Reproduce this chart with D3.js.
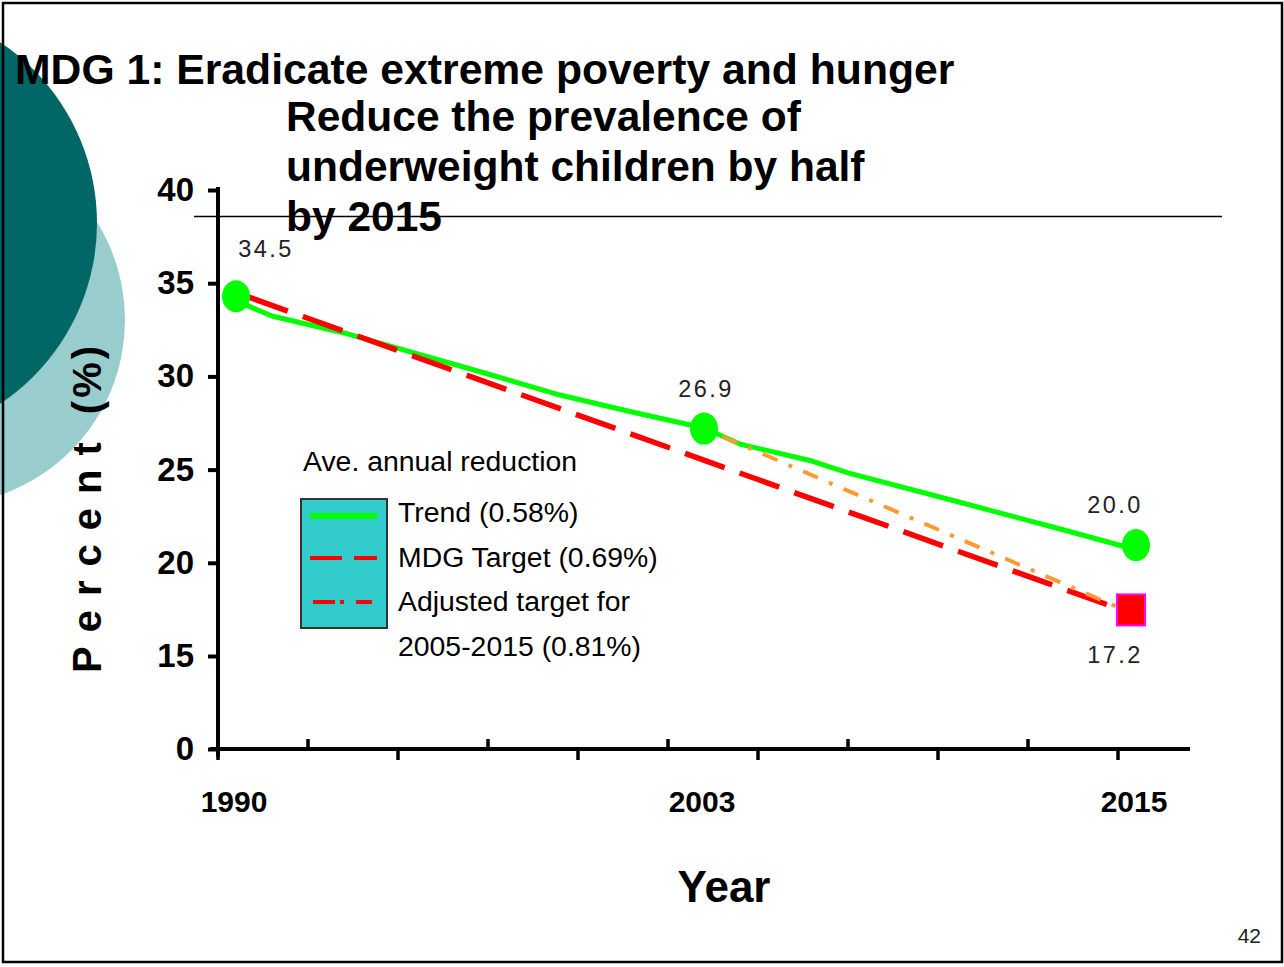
<!DOCTYPE html>
<html>
<head>
<meta charset="utf-8">
<script src="https://cdn.jsdelivr.net/npm/d3@7"></script>
<style>
  body { margin: 0; background: #fff; }
  text { font-family: Arial, "Liberation Sans", sans-serif; }
</style>
</head>
<body>
<div id="chart"></div>
<script>
// values
const trendYears = [1990, 1991, 1993, 1997, 1999, 2001, 2003, 2004, 2006, 2007, 2010, 2013, 2015];
const trendValues = [34.05, 33.24, 32.33, 30.13, 29.0, 28.09, 27.23, 26.37, 25.46, 24.82, 23.3, 21.76, 20.7];
const markerYears = [1990, 2003, 2015];
const markerValues = [34.3, 27.2, 20.95];
const targetYears = [1990, 2015];
const targetValues = [34.5, 17.2];
const adjustedYears = [2003, 2015];
const adjustedValues = [27.2, 17.2];
const squareYear = 2015;
const squareValue = 17.5;
const pointLabels = ["34.5", "26.9", "20.0", "17.2"];
const labelYears = [1990, 2003, 2015, 2015];
const labelValues = [34.3, 27.2, 20.95, 17.5];
const yTicks = [0, 15, 20, 25, 30, 35, 40];
const xLabels = [1990, 2003, 2015];
const legendItems = ["Trend (0.58%)", "MDG Target (0.69%)", "Adjusted target for", "2005-2015 (0.81%)"];

const width = 1284, height = 967;

const svg = d3.select("#chart")
  .append("svg")
  .attr("width", width)
  .attr("height", height);

// background decoration circles
svg.append("circle").attr("cx", -60).attr("cy", 320).attr("r", 185).attr("fill", "#99cccc");
svg.append("circle").attr("cx", -120).attr("cy", 223).attr("r", 217).attr("fill", "#006666");

// slide frame
svg.append("rect")
  .attr("x", 3).attr("y", 3)
  .attr("width", 1279).attr("height", 959)
  .attr("fill", "none").attr("stroke", "#000").attr("stroke-width", 2.5);

// scales (y axis is broken between 0 and 15)
const x = d3.scaleLinear().domain([1989.5, 2016.5]).range([218, 1190]);
const y = d3.scaleLinear().domain([0, 15, 40]).range([749, 656, 190]);

// titles
svg.append("text")
  .attr("x", 15).attr("y", 84)
  .attr("font-size", 42.7).attr("font-weight", "bold")
  .text("MDG 1: Eradicate extreme poverty and hunger");

const sub = ["Reduce the prevalence of", "underweight children by half", "by 2015"];
svg.append("g").selectAll("text")
  .data(sub)
  .join("text")
  .attr("x", 286)
  .attr("y", (d, i) => 131 + i * 50)
  .attr("font-size", 42.5).attr("font-weight", "bold")
  .text(d => d);

// thin rule under the header
svg.append("line")
  .attr("x1", 194).attr("x2", 1222)
  .attr("y1", 216.5).attr("y2", 216.5)
  .attr("stroke", "#000").attr("stroke-width", 1.5);

// Y axis
const yAxis = svg.append("g")
  .attr("transform", "translate(218,0)")
  .call(d3.axisLeft(y).tickValues(yTicks).tickSize(10).tickSizeOuter(0).tickPadding(14));
yAxis.select(".domain").attr("stroke-width", 4).attr("d", `M0,${y(40) - 3}V${y(0) + 8}`);
yAxis.selectAll(".tick line").attr("stroke-width", 4);
yAxis.selectAll(".tick text")
  .attr("font-family", "Arial, 'Liberation Sans', sans-serif")
  .attr("font-size", 33).attr("font-weight", "bold").attr("fill", "#000");

// X axis
const xAxis = svg.append("g");
xAxis.append("line")
  .attr("x1", 210).attr("x2", 1190)
  .attr("y1", y(0)).attr("y2", y(0))
  .attr("stroke", "#000").attr("stroke-width", 4);
const xTicks = d3.range(1989.5, 2016, 2.5);
xAxis.selectAll(".xt")
  .data(xTicks)
  .join("line")
  .attr("class", "xt")
  .attr("x1", d => x(d)).attr("x2", d => x(d))
  .attr("y1", y(0))
  .attr("y2", (d, i) => i % 2 === 0 ? y(0) + 11 : y(0) - 10)
  .attr("stroke", "#000").attr("stroke-width", 3.5);
xAxis.selectAll(".xl")
  .data(xLabels)
  .join("text")
  .attr("class", "xl")
  .attr("x", d => x(d) - 2)
  .attr("y", 812)
  .attr("text-anchor", "middle")
  .attr("font-size", 30).attr("font-weight", "bold")
  .text(d => d);

// axis titles
svg.append("text")
  .attr("x", 724).attr("y", 902)
  .attr("text-anchor", "middle")
  .attr("font-size", 44).attr("font-weight", "bold")
  .text("Year");

const yTitle = svg.append("text")
  .attr("transform", "translate(101,508) rotate(-90)")
  .attr("text-anchor", "middle")
  .attr("font-size", 40).attr("font-weight", "bold");
yTitle.append("tspan").attr("letter-spacing", 14).text("Percent");
yTitle.append("tspan").attr("letter-spacing", 3).text(" (%)");

// lines
const line = d3.line().x(d => x(d[0])).y(d => y(d[1]));

svg.append("path")
  .datum(d3.zip(trendYears, trendValues))
  .attr("d", line)
  .attr("fill", "none").attr("stroke", "#00ff00").attr("stroke-width", 5)
  .attr("stroke-linejoin", "round");

svg.append("path")
  .datum(d3.zip(targetYears, targetValues))
  .attr("d", line)
  .attr("fill", "none").attr("stroke", "#ff0000").attr("stroke-width", 5.5)
  .attr("stroke-dasharray", "42,16").attr("stroke-dashoffset", 45);

svg.append("path")
  .datum(d3.zip(adjustedYears, adjustedValues))
  .attr("d", line)
  .attr("fill", "none").attr("stroke", "#ff9933").attr("stroke-width", 4)
  .attr("stroke-dasharray", "16,12,4,12").attr("stroke-dashoffset", -20);

// markers
svg.append("g").selectAll("ellipse")
  .data(d3.zip(markerYears, markerValues))
  .join("ellipse")
  .attr("cx", d => x(d[0]))
  .attr("cy", d => y(d[1]))
  .attr("rx", 14).attr("ry", 16)
  .attr("fill", "#00ff00");

svg.append("rect")
  .attr("x", x(squareYear) - 19).attr("y", y(squareValue) - 15)
  .attr("width", 28).attr("height", 31)
  .attr("fill", "#ff0000").attr("stroke", "#ff00ff").attr("stroke-width", 2);

// point labels
const labelOffsets = [[30, -39], [2, -32], [-21, -32], [-21, 54]];
svg.append("g").selectAll("text")
  .data(pointLabels)
  .join("text")
  .attr("x", (d, i) => x(labelYears[i]) + labelOffsets[i][0])
  .attr("y", (d, i) => y(labelValues[i]) + labelOffsets[i][1])
  .attr("text-anchor", "middle")
  .attr("font-family", "'DejaVu Sans', sans-serif")
  .attr("font-size", 23.5).attr("letter-spacing", 2.5)
  .attr("fill", "#222")
  .text(d => d);

// legend
const lg = svg.append("g");
lg.append("text")
  .attr("x", 303).attr("y", 471)
  .attr("font-size", 28.4)
  .text("Ave. annual reduction");
lg.append("rect")
  .attr("x", 301).attr("y", 499)
  .attr("width", 86).attr("height", 129)
  .attr("fill", "#33cccc").attr("stroke", "#333").attr("stroke-width", 2);
lg.append("line")
  .attr("x1", 310).attr("x2", 377).attr("y1", 516).attr("y2", 516)
  .attr("stroke", "#00ff00").attr("stroke-width", 6);
lg.append("line")
  .attr("x1", 310).attr("x2", 377).attr("y1", 558).attr("y2", 558)
  .attr("stroke", "#ff0000").attr("stroke-width", 4)
  .attr("stroke-dasharray", "32,12");
lg.append("line")
  .attr("x1", 313).attr("x2", 372).attr("y1", 602).attr("y2", 602)
  .attr("stroke", "#ff0000").attr("stroke-width", 4)
  .attr("stroke-dasharray", "22,5,4,12");
lg.selectAll(".li")
  .data(legendItems)
  .join("text")
  .attr("class", "li")
  .attr("x", 398)
  .attr("y", (d, i) => 522 + i * 44.5)
  .attr("font-size", 28.4)
  .text(d => d);

// slide number
svg.append("text")
  .attr("x", 1261).attr("y", 943)
  .attr("text-anchor", "end")
  .attr("font-size", 21)
  .attr("fill", "#222")
  .text("42");
</script>
</body>
</html>
